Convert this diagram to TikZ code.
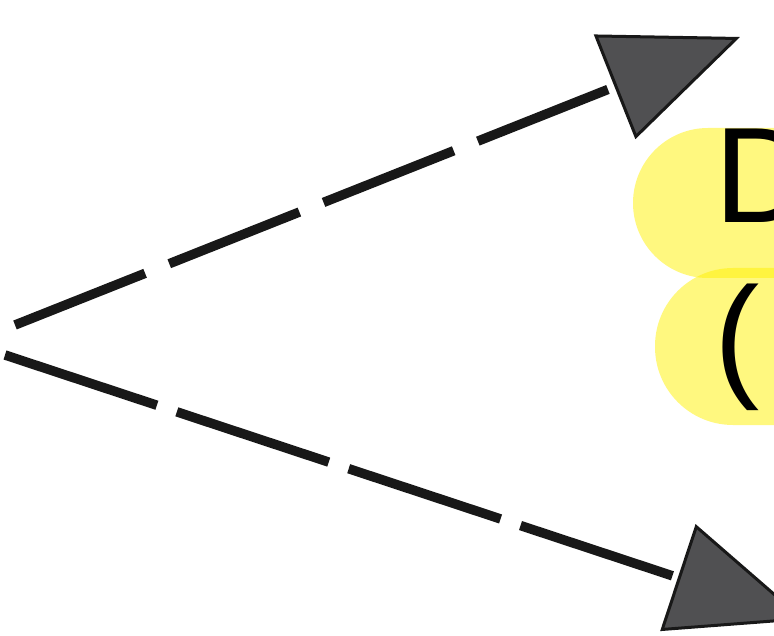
\documentclass[tikz,border=0pt]{standalone}
\usepackage{fontspec}
\setmainfont{Liberation Sans}
\usetikzlibrary{arrows.meta}
\definecolor{linecol}{RGB}{24,24,24}
\definecolor{headfill}{RGB}{80,80,82}
\tikzset{
  hilite/.style={fill=yellow, fill opacity=0.5, draw=none},
  bigtext/.style={inner sep=0pt, anchor=base west, text=black,
    font=\fontsize{136pt}{160pt}\selectfont},
  fathead/.style={-{Triangle[length=135pt,width=112pt,line width=3pt,fill=headfill]}},
  dashlineA/.style={fathead, draw=linecol, line width=9.5pt, dash pattern=on 140pt off 26pt},
  dashlineB/.style={fathead, draw=linecol, line width=9.5pt, dash pattern=on 160pt off 21pt}
}
\begin{document}
\begin{tikzpicture}[x=1pt,y=-1pt]
\useasboundingbox (0,0) rectangle (774,636);
\clip (0,0) rectangle (774,636);
\fill[white] (0,0) rectangle (774,636);
% yellow highlight shapes
\path[hilite, rounded corners=75pt] (633,128) rectangle (920,278);
\path[hilite, rounded corners=78pt] (655,268) rectangle (920,425);
% texts
\node[bigtext] (t1) at (714,223) {D};
\node[bigtext] (t2) at (714,382) {(};
% connectors
\coordinate (s1) at (15,325);
\coordinate (e1) at (740,37);
\coordinate (s2) at (5,355);
\coordinate (e2) at (806,620);
\draw[dashlineA] (s1) -- (e1);
\draw[dashlineB] (s2) -- (e2);
\end{tikzpicture}
\end{document}
